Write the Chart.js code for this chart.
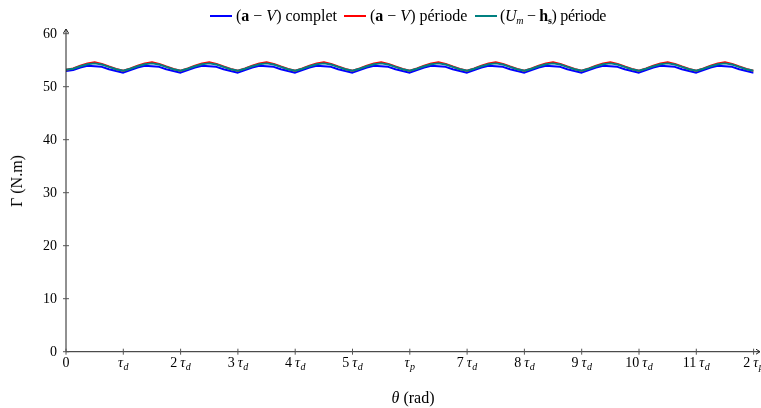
<!DOCTYPE html>
<html>
<head>
<meta charset="utf-8">
<script src="https://cdn.jsdelivr.net/npm/chart.js"></script>
<style>
  html, body { margin: 0; padding: 0; background: #fff; }
  #wrap { position: relative; width: 761px; height: 408px; }
  #chart { position: absolute; left: 0; top: 0; }
  .lg { position: absolute; top: 7px; font-family: "Liberation Serif", serif; font-size: 16px; white-space: nowrap; color: #000; line-height: 18px; }
  .sw { position: absolute; top: 15px; height: 2px; width: 22px; }
  .lg b { font-weight: bold; }
  .lg i { font-style: italic; }
  .lg sub { font-size: 10px; vertical-align: -3px; line-height: 0; }
  .ttl { position: absolute; font-family: "Liberation Serif", serif; font-size: 16px; white-space: nowrap; color: #000; }
</style>
</head>
<body>
<div id="wrap">
  <canvas id="chart" width="761" height="408"></canvas>
  <div class="sw" style="left:210px;background:#0000ff"></div>
  <div class="lg" style="left:236px">(<b>a</b> − <i>V</i>) complet</div>
  <div class="sw" style="left:344px;background:#ff0000"></div>
  <div class="lg" style="left:370px">(<b>a</b> − <i>V</i>) période</div>
  <div class="sw" style="left:475px;background:#008080"></div>
  <div class="lg" style="left:500px;letter-spacing:-0.3px">(<i>U</i><sub><i>m</i></sub> − <b>h<sub>s</sub></b>) période</div>
  <div class="ttl" style="left:17px;top:181px;transform:translate(-50%,-50%) rotate(-90deg)">Γ (N.m)</div>
  <div class="ttl" style="left:413px;top:398px;transform:translate(-50%,-50%)"><i>θ</i> (rad)</div>
</div>
<script>
// angle in multiples of tau_d
const theta = [
  0, 0.125, 0.25, 0.375, 0.5, 0.625, 0.75, 0.875,
  1, 1.125, 1.25, 1.375, 1.5, 1.625, 1.75, 1.875,
  2, 2.125, 2.25, 2.375, 2.5, 2.625, 2.75, 2.875,
  3, 3.125, 3.25, 3.375, 3.5, 3.625, 3.75, 3.875,
  4, 4.125, 4.25, 4.375, 4.5, 4.625, 4.75, 4.875,
  5, 5.125, 5.25, 5.375, 5.5, 5.625, 5.75, 5.875,
  6, 6.125, 6.25, 6.375, 6.5, 6.625, 6.75, 6.875,
  7, 7.125, 7.25, 7.375, 7.5, 7.625, 7.75, 7.875,
  8, 8.125, 8.25, 8.375, 8.5, 8.625, 8.75, 8.875,
  9, 9.125, 9.25, 9.375, 9.5, 9.625, 9.75, 9.875,
  10, 10.125, 10.25, 10.375, 10.5, 10.625, 10.75, 10.875,
  11, 11.125, 11.25, 11.375, 11.5, 11.625, 11.75, 11.875,
  12
];

const complet = [
  52.95, 53.15, 53.6, 53.95, 53.85, 53.75, 53.3, 52.95,
  52.65, 53.15, 53.6, 53.95, 53.85, 53.75, 53.3, 52.95,
  52.65, 53.15, 53.6, 53.95, 53.85, 53.75, 53.3, 52.95,
  52.65, 53.15, 53.6, 53.95, 53.85, 53.75, 53.3, 52.95,
  52.65, 53.15, 53.6, 53.95, 53.85, 53.75, 53.3, 52.95,
  52.65, 53.15, 53.6, 53.95, 53.85, 53.75, 53.3, 52.95,
  52.65, 53.15, 53.6, 53.95, 53.85, 53.75, 53.3, 52.95,
  52.65, 53.15, 53.6, 53.95, 53.85, 53.75, 53.3, 52.95,
  52.65, 53.15, 53.6, 53.95, 53.85, 53.75, 53.3, 52.95,
  52.65, 53.15, 53.6, 53.95, 53.85, 53.75, 53.3, 52.95,
  52.65, 53.15, 53.6, 53.95, 53.85, 53.75, 53.3, 52.95,
  52.65, 53.15, 53.6, 53.95, 53.85, 53.75, 53.3, 52.95,
  52.65
];

const periodeAV = [
  53.2, 53.45, 53.95, 54.4, 54.6, 54.3, 53.8, 53.35,
  53.0, 53.45, 53.95, 54.4, 54.6, 54.3, 53.8, 53.35,
  53.0, 53.45, 53.95, 54.4, 54.6, 54.3, 53.8, 53.35,
  53.0, 53.45, 53.95, 54.4, 54.6, 54.3, 53.8, 53.35,
  53.0, 53.45, 53.95, 54.4, 54.6, 54.3, 53.8, 53.35,
  53.0, 53.45, 53.95, 54.4, 54.6, 54.3, 53.8, 53.35,
  53.0, 53.45, 53.95, 54.4, 54.6, 54.3, 53.8, 53.35,
  53.0, 53.45, 53.95, 54.4, 54.6, 54.3, 53.8, 53.35,
  53.0, 53.45, 53.95, 54.4, 54.6, 54.3, 53.8, 53.35,
  53.0, 53.45, 53.95, 54.4, 54.6, 54.3, 53.8, 53.35,
  53.0, 53.45, 53.95, 54.4, 54.6, 54.3, 53.8, 53.35,
  53.0, 53.45, 53.95, 54.4, 54.6, 54.3, 53.8, 53.35,
  53.0
];

const periodeUmHs = [
  53.2, 53.4, 53.85, 54.25, 54.4, 54.2, 53.75, 53.3,
  53.0, 53.4, 53.85, 54.25, 54.4, 54.2, 53.75, 53.3,
  53.0, 53.4, 53.85, 54.25, 54.4, 54.2, 53.75, 53.3,
  53.0, 53.4, 53.85, 54.25, 54.4, 54.2, 53.75, 53.3,
  53.0, 53.4, 53.85, 54.25, 54.4, 54.2, 53.75, 53.3,
  53.0, 53.4, 53.85, 54.25, 54.4, 54.2, 53.75, 53.3,
  53.0, 53.4, 53.85, 54.25, 54.4, 54.2, 53.75, 53.3,
  53.0, 53.4, 53.85, 54.25, 54.4, 54.2, 53.75, 53.3,
  53.0, 53.4, 53.85, 54.25, 54.4, 54.2, 53.75, 53.3,
  53.0, 53.4, 53.85, 54.25, 54.4, 54.2, 53.75, 53.3,
  53.0, 53.4, 53.85, 54.25, 54.4, 54.2, 53.75, 53.3,
  53.0, 53.4, 53.85, 54.25, 54.4, 54.2, 53.75, 53.3,
  53.0
];

const xTickValues = [0, 1, 2, 3, 4, 5, 6, 7, 8, 9, 10, 11, 12];
const xTickLabels = ['0', 'τ_d', '2 τ_d', '3 τ_d', '4 τ_d', '5 τ_d', 'τ_p',
                     '7 τ_d', '8 τ_d', '9 τ_d', '10 τ_d', '11 τ_d', '2 τ_p'];
const yTickValues = [0, 10, 20, 30, 40, 50, 60];

const pts = ys => ys.map((y, i) => ({ x: theta[i], y }));

const FONT = '"Liberation Serif", serif';

// axes, arrows, ticks and tick labels in pgfplots style
const axesPlugin = {
  id: 'axes',
  afterDatasetsDraw(chart) {
    const { ctx, scales: { x, y } } = chart;
    const x0 = x.getPixelForValue(0), y0 = y.getPixelForValue(0);
    const xEnd = 760, yTop = 29;
    ctx.save();
    ctx.strokeStyle = '#222';
    ctx.fillStyle = '#222';
    ctx.lineWidth = 1;
    ctx.beginPath();
    ctx.moveTo(x0, y0); ctx.lineTo(xEnd, y0);
    ctx.moveTo(x0, y0); ctx.lineTo(x0, yTop);
    ctx.stroke();
    // arrowheads
    ctx.beginPath();
    ctx.moveTo(xEnd - 4, y0 - 2.5); ctx.lineTo(xEnd, y0); ctx.lineTo(xEnd - 4, y0 + 2.5);
    ctx.moveTo(x0 - 2.5, yTop + 4); ctx.lineTo(x0, yTop); ctx.lineTo(x0 + 2.5, yTop + 4);
    ctx.stroke();
    // ticks
    ctx.strokeStyle = '#555';
    ctx.beginPath();
    xTickValues.forEach(v => {
      const px = x.getPixelForValue(v);
      ctx.moveTo(px, y0 - 3); ctx.lineTo(px, y0 + 3);
    });
    yTickValues.forEach(v => {
      const py = y.getPixelForValue(v);
      ctx.moveTo(x0 - 3, py); ctx.lineTo(x0 + 3, py);
    });
    ctx.stroke();

    ctx.fillStyle = '#000';
    ctx.textBaseline = 'alphabetic';
    // y labels
    ctx.font = '14px ' + FONT;
    ctx.textAlign = 'right';
    yTickValues.forEach(v => {
      ctx.fillText(String(v), x0 - 9, y.getPixelForValue(v) + 4.5);
    });
    // x labels with subscripts
    ctx.textAlign = 'left';
    const base = y0 + 15;
    xTickValues.forEach((v, i) => {
      const lab = xTickLabels[i];
      const parts = [];
      const m = lab.match(/^(\d+ )?(τ)_(\w)$/);
      if (m) {
        if (m[1]) parts.push({ t: m[1].trim(), f: '14px ' + FONT, dy: 0, gap: 3 });
        parts.push({ t: 'τ', f: 'italic 14px ' + FONT, dy: 0, gap: 0.5 });
        parts.push({ t: m[3], f: 'italic 10px ' + FONT, dy: 3, gap: 0 });
      } else {
        parts.push({ t: lab, f: '14px ' + FONT, dy: 0, gap: 0 });
      }
      let w = 0;
      parts.forEach(p => { ctx.font = p.f; p.w = ctx.measureText(p.t).width; w += p.w + p.gap; });
      let cx = x.getPixelForValue(v) - w / 2;
      parts.forEach(p => {
        ctx.font = p.f;
        ctx.fillText(p.t, cx, base + p.dy);
        cx += p.w + p.gap;
      });
    });
    ctx.restore();
  }
};

new Chart(document.getElementById('chart'), {
  type: 'line',
  data: {
    datasets: [
      { label: '(a − V) complet', data: pts(complet), borderColor: '#0000ff', borderWidth: 2, order: 2 },
      { label: '(a − V) période', data: pts(periodeAV), borderColor: '#ff0000', borderWidth: 2, order: 1 },
      { label: '(Um − hs) période', data: pts(periodeUmHs), borderColor: '#008080', borderWidth: 2, order: 0 },
    ]
  },
  options: {
    responsive: false,
    animation: false,
    layout: { padding: { left: 66, right: 7.4, top: 33.7, bottom: 56.3 } },
    elements: { point: { radius: 0 }, line: { tension: 0, borderJoinStyle: 'round' } },
    plugins: { legend: { display: false }, tooltip: { enabled: false } },
    scales: {
      x: { type: 'linear', display: false, min: 0, max: 12 },
      y: { type: 'linear', display: false, min: 0, max: 60 }
    }
  },
  plugins: [axesPlugin]
});
</script>
</body>
</html>
